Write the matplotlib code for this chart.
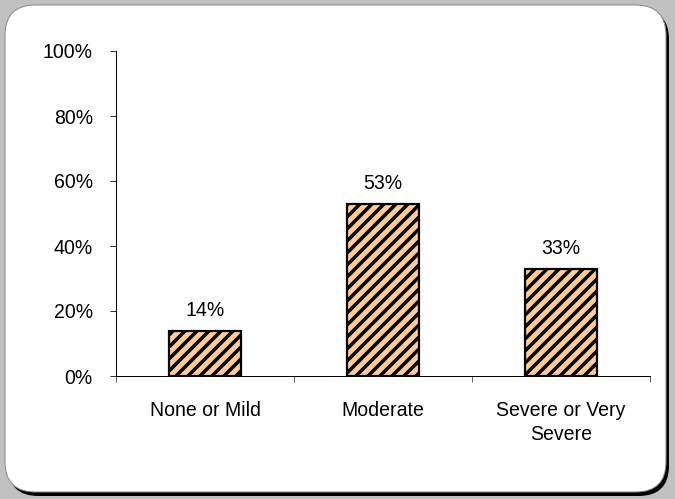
import matplotlib
matplotlib.use("Agg")
import matplotlib.pyplot as plt
from matplotlib.patches import FancyBboxPatch

categories = ["None or Mild", "Moderate", "Severe or Very\nSevere"]
values = [14, 53, 33]
labels = ["14%", "53%", "33%"]
yticks = [0, 20, 40, 60, 80, 100]
ytick_labels = ["0%", "20%", "40%", "60%", "80%", "100%"]

plt.rcParams["font.family"] = ["Liberation Sans", "DejaVu Sans"]
plt.rcParams["hatch.linewidth"] = 3.5

W, H = 675, 499
FS = 19.5
fig = plt.figure(figsize=(W / 72, H / 72), dpi=72, facecolor="#c0c0c0")

# rounded frame with drop shadow (drawn behind the axes)
shadow = FancyBboxPatch((8 / W, 3 / H), 661 / W, 487 / H,
                        boxstyle="round,pad=0,rounding_size=0.045",
                        transform=fig.transFigure, facecolor="black",
                        edgecolor="none", mutation_aspect=W / H, zorder=-10)
box = FancyBboxPatch((5 / W, 7 / H), 661 / W, 487 / H,
                     boxstyle="round,pad=0,rounding_size=0.045",
                     transform=fig.transFigure, facecolor="white",
                     edgecolor="#888888", linewidth=1, mutation_aspect=W / H,
                     zorder=-9)
fig.patches.extend([shadow, box])

ax = fig.add_axes([116 / W, 1 - 376 / H, 534 / W, 325 / H])
ax.set_zorder(5)
ax.set_facecolor("none")
x = range(len(categories))
bars = ax.bar(x, values, width=0.41, color="#ffcc99", edgecolor="black",
              linewidth=2.2, hatch="//")
for b, lab in zip(bars, labels):
    ax.annotate(lab, (b.get_x() + b.get_width() / 2, b.get_height()),
                xytext=(0, 11), textcoords="offset points",
                ha="center", va="bottom", fontsize=FS)

ax.set_xlim(-0.5, 2.5)
ax.set_ylim(0, 100)
ax.set_yticks(yticks)
ax.set_yticklabels(ytick_labels, fontsize=FS)
ax.set_xticks(list(x))
ax.set_xticklabels(categories, fontsize=FS, linespacing=1.3)
ax.set_xticks([-0.5, 0.5, 1.5, 2.5], minor=True)
ax.tick_params(axis="x", which="major", length=0, pad=25)
ax.tick_params(axis="x", which="minor", length=6, color="black")
ax.tick_params(axis="y", length=6, pad=17, color="black")
for s in ["top", "right"]:
    ax.spines[s].set_visible(False)
for s in ["left", "bottom"]:
    ax.spines[s].set_linewidth(1)

fig.savefig("out.png", dpi=72, facecolor=fig.get_facecolor())
